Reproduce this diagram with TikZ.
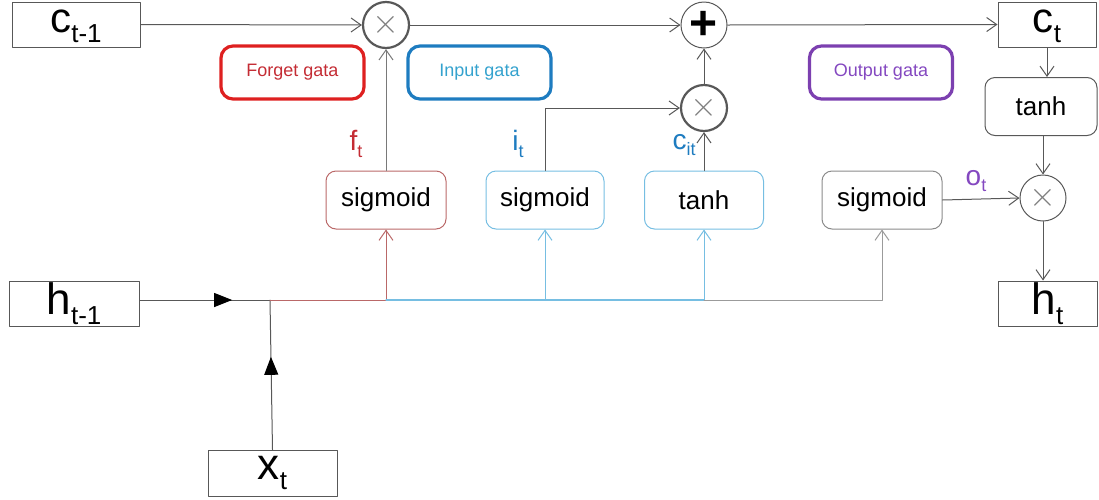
\documentclass[tikz,border=0pt]{standalone}
\usepackage{fontspec}
\setmainfont{Liberation Sans}
\usetikzlibrary{arrows.meta, calc}
\usetikzlibrary{decorations.markings}

\definecolor{fgred}{RGB}{222,32,32}
\definecolor{fgtext}{RGB}{196,44,52}
\definecolor{fgline}{RGB}{186,104,104}
\definecolor{igblue}{RGB}{30,124,192}
\definecolor{igtext}{RGB}{52,162,206}
\definecolor{igline}{RGB}{118,190,226}
\definecolor{ogpurple}{RGB}{124,64,176}
\definecolor{ogtext}{RGB}{132,72,192}
\definecolor{wire}{RGB}{88,88,88}

% variable with a lowered subscript
\newcommand{\varsub}[3]{#1\raisebox{-0.45ex}{\fontsize{#3}{#3}\selectfont #2}}

\tikzset{
  statebox/.style={draw=wire, line width=0.5pt, inner sep=0pt, fill=white},
  gatebox/.style={draw, rounded corners=6pt, line width=1.6pt, inner sep=0pt,
    minimum width=71.5pt, minimum height=26.5pt, font=\fontsize{9}{9}\selectfont},
  actbox/.style={draw, rounded corners=5pt, line width=0.5pt, inner sep=0pt,
    minimum height=29pt, font=\fontsize{13}{13}\selectfont},
  opnode/.style={circle, draw=wire, line width=0.5pt, minimum size=23pt, inner sep=0pt, fill=white},
  opthick/.style={opnode, line width=1.1pt},
  conn/.style={draw=wire, line width=0.5pt, -{Straight Barb[length=5pt,width=7pt]}},
  sublbl/.style={font=\fontsize{14}{14}\selectfont},
  midtri/.style={postaction={decorate}, decoration={markings,
    mark=at position #1 with {\arrow[black]{Triangle[length=9pt,width=7pt]}}}},
}

\begin{document}
\begin{tikzpicture}[x=0.5pt, y=-0.5pt, line cap=round, line join=round]
  \useasboundingbox (0,0) rectangle (1099,499);

  %========================
  % cell state path (top)
  %========================
  \node[statebox, minimum width=64pt, minimum height=22.5pt] (ctm1) at (76,24.5) {};
  \node[font=\fontsize{21}{21}\selectfont, inner sep=0pt] (ctm1txt) at ($(ctm1)+(0,2)$) {\varsub{c}{t-1}{13}};
  \node[opthick] (fmul) at (386,25) {\textcolor{gray}{\fontsize{18}{18}\selectfont$\times$}};
  \node[opnode] (add) at (704,25) {\fontsize{24}{24}\selectfont\bfseries +};
  \node[statebox, minimum width=49pt, minimum height=22.5pt] (ct) at (1047,24.5) {};
  \node[font=\fontsize{21}{21}\selectfont, inner sep=0pt] (cttxt) at ($(ct)+(0,2)$) {\varsub{c}{t}{13}};

  % gate captions
  \node[gatebox, draw=fgred, text=fgtext] (fgate) at (292.5,72.5) {Forget gata};
  \node[gatebox, draw=igblue, text=igtext] (igate) at (479.5,72.5) {Input gata};
  \node[gatebox, draw=ogpurple, text=ogtext] (ogate) at (881,72.5) {Output gata};

  %========================
  % activations
  %========================
  \node[actbox, draw=fgline, minimum width=60pt] (fsig) at (386,200) {sigmoid};
  \node[actbox, draw=igline, minimum width=59pt] (isig) at (545,200) {sigmoid};
  \node[actbox, draw=igline, minimum width=59.5pt] (itanh) at (704,200) {tanh};
  \node[actbox, draw=wire!70, minimum width=60pt] (osig) at (882,200) {sigmoid};
  \node[opthick] (imul) at (704,108) {\textcolor{gray}{\fontsize{18}{18}\selectfont$\times$}};
  \node[actbox, draw=wire, minimum width=56pt] (otanh) at (1041,106.5) {tanh};
  \node[opnode] (omul) at (1043,198) {\textcolor{gray}{\fontsize{18}{18}\selectfont$\times$}};

  % gate output labels
  \node[sublbl, text=fgtext] (flbl) at (356,144) {\varsub{f}{t}{9}};
  \node[sublbl, text=igblue] (ilbl) at (518,144) {\varsub{i}{t}{9}};
  \node[sublbl, text=igblue] (clbl) at (684,145) {\varsub{c}{it}{9}};
  \node[sublbl, text=ogtext] (olbl) at (976,181) {\varsub{o}{t}{9}};

  %========================
  % inputs / output
  %========================
  \node[statebox, minimum width=65pt, minimum height=22.5pt, font=\fontsize{22}{22}\selectfont]
    (htm1) at (74,303.5) {\varsub{h}{t-1}{13}};
  \node[statebox, minimum width=64.5pt, minimum height=23pt, font=\fontsize{22}{22}\selectfont]
    (xt) at (272.5,473) {\varsub{x}{t}{13}};
  \node[statebox, minimum width=49.5pt, minimum height=22.5pt, font=\fontsize{22}{22}\selectfont]
    (ht) at (1047.5,303.5) {\varsub{h}{t}{13}};
  \coordinate (jn) at (270,300);

  % h_{t-1} and x_t join
  \draw[wire, line width=0.5pt, midtri=0.71] (htm1.east |- jn) -- (jn);
  \draw[wire, line width=0.5pt, midtri=0.62] (xt.north) -- (jn);

  % shared bus to the gates
  \draw[conn, draw=fgline] (jn) -| (fsig.south);
  \draw[igline, line width=0.6pt] (fsig.south |- jn) -- (itanh.south |- jn);
  \draw[conn, draw=igline] (isig.south |- jn) -- (isig.south);
  \draw[conn, draw=igline] (itanh.south |- jn) -- (itanh.south);
  \draw[conn, draw=wire!60] (itanh.south |- jn) -| (osig.south);

  % gate outputs
  \draw[conn, draw=wire!80] (fsig.north) -- (fmul.south);
  \draw[conn] (isig.north) |- (imul.west);
  \draw[conn] (itanh.north) -- (imul.south);
  \draw[conn] (imul.north) -- (add.south);
  \draw[conn] (osig.east) -- (omul.west);

  % cell state flow
  \draw[conn] (ctm1.east) -- (fmul.west);
  \draw[conn] (fmul.east) -- (add.west);
  \draw[conn] (add.east) -- (ct.west);
  \draw[conn] (ct.south) -- (ct.south |- otanh.north);
  \draw[conn] (otanh.south -| omul) -- (omul.north);
  \draw[conn] (omul.south) -- (omul.south |- ht.north);
\end{tikzpicture}
\end{document}
